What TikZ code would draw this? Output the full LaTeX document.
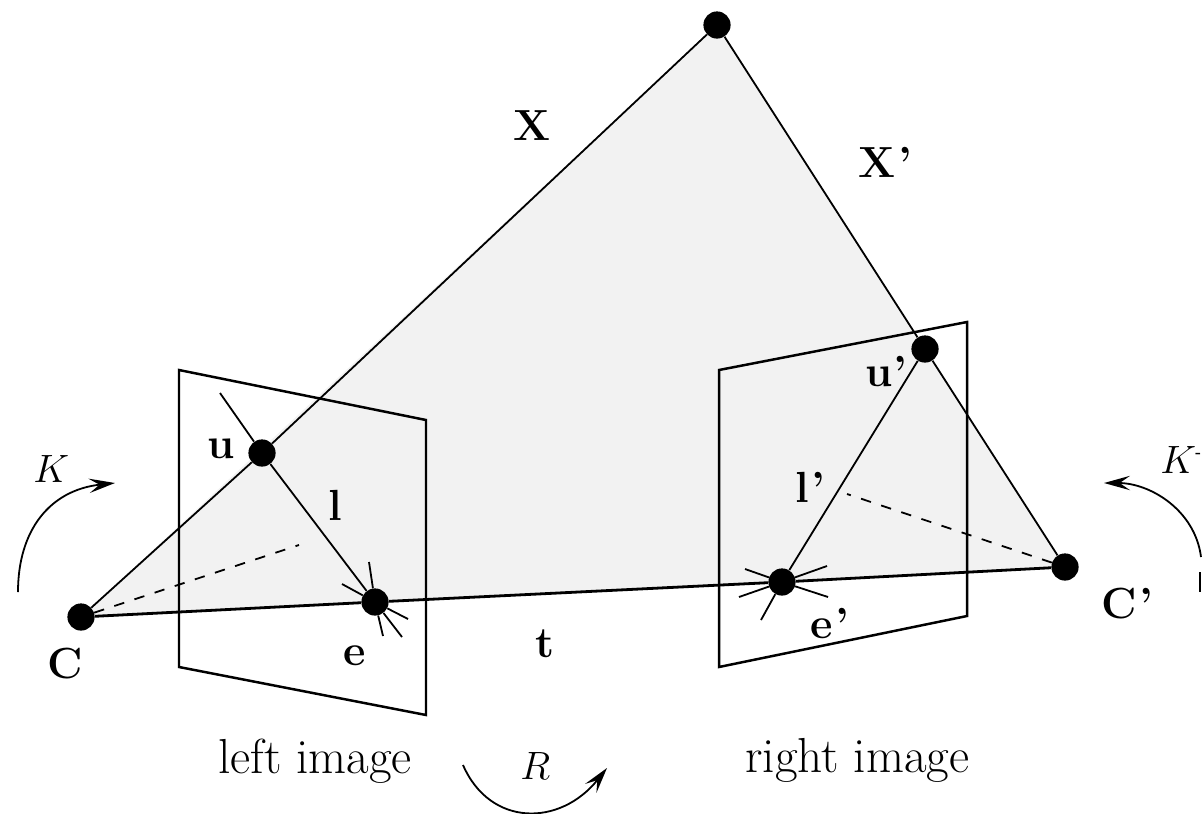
\documentclass[tikz,border=0pt]{standalone}
\usepackage{amsmath}
\usepackage{graphicx}
\usepackage{tikz}
\usetikzlibrary{arrows.meta,backgrounds}
\definecolor{ink}{HTML}{000000}
\definecolor{planegray}{HTML}{F2F2F2}
\newcommand{\bigmath}[1]{\scalebox{1.13}{$#1$}}
\tikzset{
  imgdot/.style={circle,fill=ink,inner sep=0pt,minimum size=6.8mm},
  ray/.style={draw=ink,line width=0.45mm},
  baseline/.style={draw=ink,line width=0.7mm},
  frame/.style={draw=ink,line width=0.62mm,line join=miter},
  dashray/.style={draw=ink,line width=0.45mm,dash pattern=on 2.6mm off 2.7mm},
  turn/.style={draw=ink,line width=0.45mm,-{Stealth[length=6.5mm,width=3.6mm,inset=2.6mm]}},
  lab/.style={anchor=base west,inner sep=0pt,text=ink,font=\fontsize{35}{38}\selectfont},
  mathlab/.style={lab,font=\fontsize{25}{27}\selectfont},
  boldlab/.style={lab,font=\fontsize{31}{34}\selectfont\bfseries},
}
\begin{document}
\begin{tikzpicture}[x=0.25mm,y=-0.25mm]
  \useasboundingbox (0,0) rectangle (1202,813);

  % points of the epipolar plane
  \foreach \dotname/\px/\py in {C/81/617,Cr/1065/567,P/717/25,u/262/453,ur/925/349,e/375/602,er/782/582}{
    \node[imgdot] (\dotname) at (\px,\py) {};
  }

  \begin{scope}[on background layer]
    \fill[planegray] (C.center) -- (P.center) -- (Cr.center) -- cycle;
  \end{scope}

  % image frames
  \coordinate (la) at (179,370);
  \coordinate (lb) at (426,420);
  \coordinate (lc) at (426,715);
  \coordinate (ld) at (179,667);
  \coordinate (ra) at (719,370);
  \coordinate (rb) at (967,322);
  \coordinate (rc) at (967,616);
  \coordinate (rd) at (719,667);
  \draw[frame] (la) -- (lb) -- (lc) -- (ld) -- cycle;
  \draw[frame] (ra) -- (rb) -- (rc) -- (rd) -- cycle;

  % rays and lines
  \draw[ray] (C) -- (u);
  \draw[ray] (u) -- (P);
  \draw[ray] (P) -- (ur);
  \draw[ray] (ur) -- (Cr);
  \draw[baseline] (C) -- (e);
  \draw[baseline] (e) -- (er);
  \draw[baseline] (er) -- (Cr);
  \draw[ray] (e) -- (u);
  \draw[ray] (er) -- (ur);

  \coordinate (utip) at (220,393);
  \draw[ray] (u) -- (utip);

  \coordinate (lmid) at (299,545);
  \coordinate (rmid) at (847,494);
  \draw[dashray] (C) -- (lmid);
  \draw[dashray] (Cr) -- (rmid);

  % spokes at the epipoles
  \foreach \sx/\sy [count=\si] in {369/562,342/584,408/619,402/637,383/636}{
    \coordinate (es\si) at (\sx,\sy);
    \draw[ray] (e) -- (es\si);
  }
  \foreach \sx/\sy [count=\si] in {745/569,827/566,828/597,739/597,761/620}{
    \coordinate (ers\si) at (\sx,\sy);
    \draw[ray] (er) -- (ers\si);
  }

  % turning arrows
  \coordinate (kla) at (18,592);
  \coordinate (klb) at (115,483);
  \draw[turn] (kla) .. controls (18,530) and (50,490) .. (klb);
  \coordinate (kra) at (1201,557);
  \coordinate (krb) at (1104,483);
  \draw[turn] (kra) .. controls (1195,510) and (1150,483) .. (krb);
  \coordinate (krc) at (1200,572);
  \coordinate (krd) at (1200,592);
  \draw[ray] (krc) -- (krd);
  \coordinate (rta) at (463,765);
  \coordinate (rtb) at (607,768);
  \draw[turn] (rta) .. controls (490,827) and (560,827) .. (rtb);

  % labels
  \node[boldlab] (labX) at (513,140) {X};
  \node[boldlab] (labXr) at (858,177) {X\kern2pt'};
  \node[boldlab] (labu) at (207,458) {u};
  \node[boldlab] (labur) at (865,386) {u\kern0.5pt'};
  \node[boldlab] (labl) at (328,520) {l};
  \node[boldlab] (lablr) at (795,502) {l\kern2pt'};
  \node[boldlab] (labe) at (343,665) {e};
  \node[boldlab] (laber) at (810,638) {e\kern2pt'};
  \node[boldlab] (labC) at (47,678) {C};
  \node[boldlab] (labCr) at (1101,618) {C\kern2pt'};
  \node[boldlab] (labt) at (535,657) {t};
  \node[mathlab] (labK) at (33,482) {\bigmath{K}};
  \node[mathlab] (labKr) at (1160,473)
    {\bigmath{K}\kern-0.5pt\raisebox{11pt}{\fontsize{11}{11}\selectfont\bfseries -}};
  \node[mathlab] (labR) at (520,779) {\bigmath{R}};
  \node[lab] (labL) at (218,773) {left image};
  \node[lab] (labRi) at (745,772) {right image};
\end{tikzpicture}
\end{document}
